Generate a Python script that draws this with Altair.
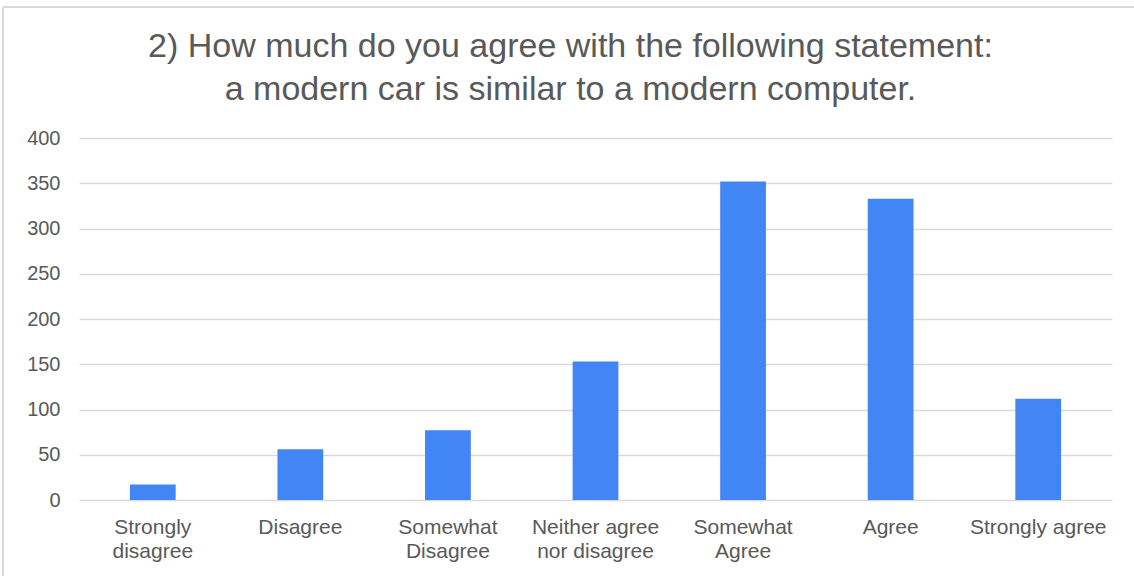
import altair as alt
import pandas as pd

categories = ["Strongly disagree", "Disagree", "Somewhat Disagree",
              "Neither agree nor disagree", "Somewhat Agree", "Agree", "Strongly agree"]
label_lines = [["Strongly", "disagree"], ["Disagree"], ["Somewhat", "Disagree"],
               ["Neither agree", "nor disagree"], ["Somewhat", "Agree"], ["Agree"], ["Strongly agree"]]
counts = [17, 56, 77, 153, 352, 333, 112]
y_ticks = [0, 50, 100, 150, 200, 250, 300, 350, 400]
title_lines = ["2) How much do you agree with the following statement:",
               "a modern car is similar to a modern computer."]

df = pd.DataFrame({"category": categories, "count": counts})

label_map = "{" + ",".join(
    "'" + c + "':[" + ",".join("'" + l + "'" for l in lines) + "]"
    for c, lines in zip(categories, label_lines)) + "}"

W, H = 1033, 362
PL, PT = 79, 138
GRAY = "#595959"
FONT = "Liberation Sans"

bars = alt.Chart(df).mark_bar(color="#4285F4").encode(
    x=alt.X("category:N", sort=categories, title=None,
            scale=alt.Scale(paddingInner=0.69, paddingOuter=0.345),
            axis=alt.Axis(labelExpr=label_map + "[datum.label]", labelAngle=0,
                          labelFontSize=21, labelColor=GRAY, labelFont=FONT,
                          labelLineHeight=24, labelPadding=16, ticks=False,
                          domain=False, grid=False, labelBaseline="top")),
    y=alt.Y("count:Q", title=None,
            scale=alt.Scale(domain=[0, 400], nice=False),
            axis=alt.Axis(values=y_ticks, labelFontSize=20, labelColor=GRAY,
                          labelFont=FONT, labelPadding=19, ticks=False, domain=False,
                          grid=True, gridColor="#d9d9d9", gridWidth=1.5)),
)

border_left = alt.Chart(df).mark_rule(color="#d9d9d9", strokeWidth=2).encode(
    x=alt.value(3 - PL), y=alt.value(7 - PT), y2=alt.value(576 - PT))
border_top = alt.Chart(df).mark_rule(color="#d9d9d9", strokeWidth=2).encode(
    x=alt.value(3 - PL), x2=alt.value(1134 - PL), y=alt.value(7 - PT))

chart = alt.layer(bars, border_left, border_top).properties(
    width=W, height=H, background="white",
    title=alt.TitleParams(title_lines, fontSize=34, font=FONT, color=GRAY,
                          fontWeight="normal", lineHeight=43, anchor="middle",
                          baseline="alphabetic", dx=-25, offset=-128),
    autosize=alt.AutoSizeParams(type="none"),
    padding={"left": PL, "top": PT, "right": 1134 - PL - W, "bottom": 576 - PT - H},
).configure_view(strokeWidth=0)

chart.save("out.html", embed_options={"renderer": "svg", "actions": False})
